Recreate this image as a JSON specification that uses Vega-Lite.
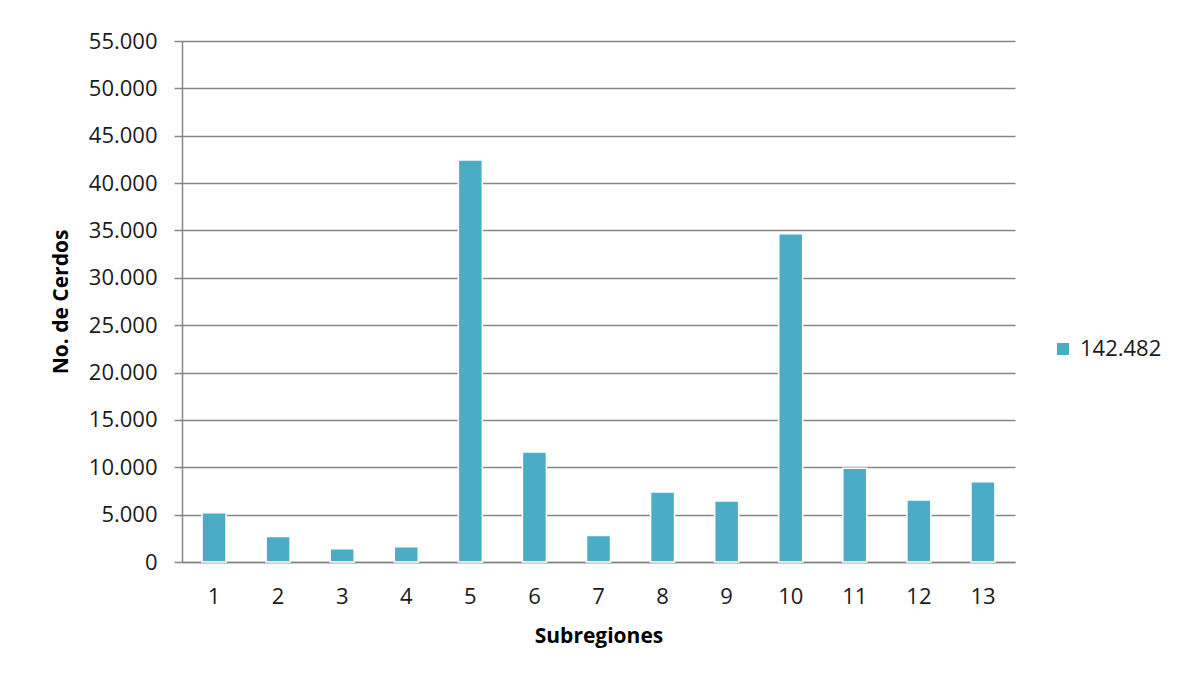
{
  "$schema": "https://vega.github.io/schema/vega-lite/v6.json",
  "width": 833,
  "height": 521,
  "autosize": {"type": "none"},
  "padding": {"left": 182, "top": 41, "right": 177, "bottom": 119},
  "background": "white",
  "data": {
    "values": [
      {"subregion": "1", "cerdos": 5200, "serie": "142.482"},
      {"subregion": "2", "cerdos": 2700, "serie": "142.482"},
      {"subregion": "3", "cerdos": 1400, "serie": "142.482"},
      {"subregion": "4", "cerdos": 1600, "serie": "142.482"},
      {"subregion": "5", "cerdos": 42450, "serie": "142.482"},
      {"subregion": "6", "cerdos": 11600, "serie": "142.482"},
      {"subregion": "7", "cerdos": 2800, "serie": "142.482"},
      {"subregion": "8", "cerdos": 7400, "serie": "142.482"},
      {"subregion": "9", "cerdos": 6450, "serie": "142.482"},
      {"subregion": "10", "cerdos": 34650, "serie": "142.482"},
      {"subregion": "11", "cerdos": 9900, "serie": "142.482"},
      {"subregion": "12", "cerdos": 6550, "serie": "142.482"},
      {"subregion": "13", "cerdos": 8480, "serie": "142.482"}
    ]
  },
  "mark": {"type": "bar", "stroke": "white", "strokeWidth": 1.5},
  "encoding": {
    "x": {
      "field": "subregion",
      "type": "ordinal",
      "sort": null,
      "scale": {"paddingInner": 0.626, "paddingOuter": 0.313},
      "axis": {
        "title": "Subregiones",
        "labelAngle": 0,
        "ticks": false,
        "labelPadding": 24,
        "titlePadding": 18,
        "domainColor": "#868686",
        "domainWidth": 1.5
      }
    },
    "y": {
      "field": "cerdos",
      "type": "quantitative",
      "scale": {"domain": [0, 55000], "nice": false},
      "axis": {
        "title": "No. de Cerdos",
        "values": [0, 5000, 10000, 15000, 20000, 25000, 30000, 35000, 40000, 45000, 50000, 55000],
        "format": ",d",
        "tickSize": 8,
        "tickColor": "#868686",
        "tickWidth": 1.5,
        "labelPadding": 17,
        "titlePadding": 17,
        "domainColor": "#868686",
        "domainWidth": 1.5,
        "grid": true,
        "gridColor": "#868686",
        "gridWidth": 1.5
      }
    },
    "color": {
      "field": "serie",
      "type": "nominal",
      "scale": {"range": ["#4BACC6"]},
      "legend": {
        "title": null,
        "orient": "none",
        "legendX": 870,
        "legendY": 297,
        "symbolType": "square",
        "symbolSize": 144,
        "symbolStrokeWidth": 0,
        "labelFontSize": 22,
        "labelOffset": 6
      }
    }
  },
  "config": {
    "locale": {"number": {"decimal": ",", "thousands": ".", "grouping": [3], "currency": ["", ""]}},
    "font": "Open Sans",
    "view": {"stroke": null},
    "axis": {
      "labelFont": "Open Sans",
      "labelFontSize": 22,
      "labelColor": "#1a1a1a",
      "titleFont": "Open Sans",
      "titleFontSize": 21,
      "titleFontWeight": "bold",
      "titleColor": "#000000"
    },
    "legend": {"labelFont": "Open Sans", "labelColor": "#1a1a1a"}
  }
}
